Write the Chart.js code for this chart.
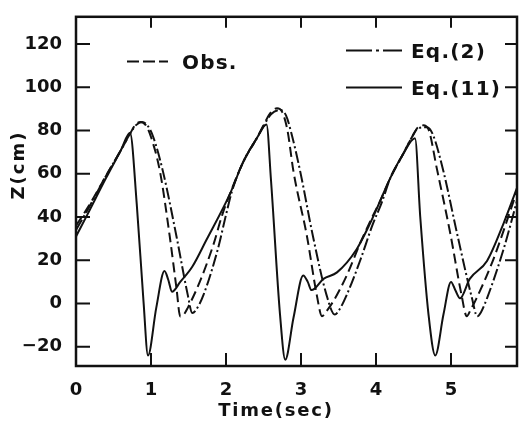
<!DOCTYPE html>
<html>
<head>
<meta charset="utf-8">
<script src="https://cdn.jsdelivr.net/npm/chart.js@4.4.1/dist/chart.umd.min.js"></script>
<style>
  html, body { margin: 0; padding: 0; background: #fff; }
</style>
</head>
<body>
<canvas id="chart" width="519" height="427"></canvas>
<script>
// tick labels
const xTicks = [0, 1, 2, 3, 4, 5];
const yTicks = [-20, 0, 20, 40, 60, 80, 100, 120];

// Obs. (dashed)
const obsT = [0, 0.15, 0.4, 0.6, 0.72, 0.8, 0.86, 0.93, 1.0, 1.12, 1.25, 1.34, 1.39, 1.44, 1.49, 1.65, 1.83, 1.95, 2.05, 2.23, 2.42, 2.5, 2.6, 2.68, 2.75, 2.82, 2.9, 3.08, 3.21, 3.28, 3.33, 3.43, 3.61, 3.79, 3.95, 4.05, 4.19, 4.36, 4.48, 4.56, 4.63, 4.7, 4.81, 4.99, 5.14, 5.21, 5.26, 5.34, 5.56, 5.88];
const obsZ = [36, 44, 59, 71, 78.5, 83, 84, 82.5, 77, 61, 31, 7, -6, -5, -2, 10, 27, 41, 50.5, 65.5, 77, 82.5, 88.5, 90.3, 88.5, 80, 61, 31, 4, -5.9, -4, 1, 13, 28, 40, 47, 58, 69, 77, 81.5, 82.4, 80.5, 62.6, 32.5, 4, -5.9, -3, 2.4, 20, 52];

// Eq.(2) (dash-dot)
const eq2T = [0, 0.15, 0.4, 0.6, 0.72, 0.8, 0.88, 0.95, 1.03, 1.16, 1.34, 1.49, 1.55, 1.6, 1.7, 1.89, 2.0, 2.08, 2.23, 2.42, 2.5, 2.6, 2.72, 2.8, 2.87, 2.99, 3.16, 3.34, 3.45, 3.5, 3.61, 3.79, 3.95, 4.08, 4.19, 4.36, 4.48, 4.56, 4.68, 4.76, 4.9, 5.08, 5.28, 5.35, 5.4, 5.48, 5.7, 5.88];
const eq2Z = [34, 43, 59, 71, 78.5, 82.5, 84, 82.5, 77, 61, 31, 4, -4.4, -3, 4, 25, 41, 52, 65.5, 77, 82, 87.5, 89.5, 87, 79, 61, 31, 4, -5.1, -3.5, 4, 20, 36, 47, 58, 69, 77, 81, 81.5, 78, 61, 32.5, 2.4, -5.9, -4, 2.4, 25, 47.5];

// Eq.(11) (solid)
const eq11T = [0, 0.15, 0.4, 0.6, 0.72, 0.81, 0.9, 0.96, 1.07, 1.18, 1.23, 1.28, 1.39, 1.55, 1.74, 2.05, 2.23, 2.42, 2.54, 2.6, 2.72, 2.79, 2.9, 3.03, 3.09, 3.14, 3.3, 3.48, 3.74, 3.92, 4.05, 4.19, 4.36, 4.52, 4.59, 4.7, 4.79, 4.9, 5.0, 5.06, 5.12, 5.25, 5.48, 5.7, 5.88];
const eq11Z = [31, 41, 58, 71, 79, 46, 1, -24, -2, 15, 11, 5.4, 10, 17, 29.5, 50.5, 65.5, 77, 82.8, 57, -5, -26, -6.6, 13, 10, 6.2, 11.4, 14.4, 25, 37, 47, 58, 69, 76.4, 40, -5, -24, -5, 10, 6, 2.4, 11.4, 19.7, 37, 53.5];

const toPoints = (ts, zs) => ts.map((t, i) => ({ x: t, y: zs[i] }));

const ink = '#111';
const tickFont = { family: 'DejaVu Sans', weight: 'bold', size: 18 };

// frame, inward tick marks, legend and axis titles
const decorations = {
    id: 'decorations',
    afterDraw(chart) {
        const ctx = chart.ctx;
        const a = chart.chartArea;
        const xs = chart.scales.x;
        const ys = chart.scales.y;
        ctx.save();
        ctx.strokeStyle = ink;
        ctx.lineWidth = 2.5;
        ctx.strokeRect(a.left, a.top, a.right - a.left, a.bottom - a.top);

        ctx.lineWidth = 2;
        ctx.beginPath();
        xTicks.forEach(v => {
            if (v === 0) return;
            const px = xs.getPixelForValue(v);
            ctx.moveTo(px, a.bottom); ctx.lineTo(px, a.bottom - 13);
            ctx.moveTo(px, a.top); ctx.lineTo(px, a.top + 11);
        });
        yTicks.forEach(v => {
            const py = ys.getPixelForValue(v);
            ctx.moveTo(a.left, py); ctx.lineTo(a.left + 14, py);
            ctx.moveTo(a.right, py); ctx.lineTo(a.right - 12, py);
        });
        ctx.stroke();

        // legend
        ctx.fillStyle = ink;
        ctx.font = 'bold 20px "DejaVu Sans"';
        ctx.letterSpacing = '1.2px';
        ctx.textBaseline = 'alphabetic';
        ctx.textAlign = 'left';
        ctx.lineWidth = 2;
        const sample = (x1, x2, y, dash) => {
            ctx.setLineDash(dash);
            ctx.beginPath();
            ctx.moveTo(x1, y); ctx.lineTo(x2, y);
            ctx.stroke();
        };
        sample(127, 168, 61.5, [12, 4]);
        ctx.fillText('Obs.', 182, 68.5);
        sample(346, 402, 50.5, [26, 4, 3, 4]);
        ctx.fillText('Eq.(2)', 411, 57.5);
        sample(346, 402, 87.5, []);
        ctx.fillText('Eq.(11)', 411, 94.5);
        ctx.setLineDash([]);

        // axis titles
        ctx.font = 'bold 18px "DejaVu Sans"';
        ctx.letterSpacing = '1.8px';
        ctx.textAlign = 'center';
        ctx.fillText('Time(sec)', 276, 415.5);
        ctx.translate(23.5, 165);
        ctx.rotate(-Math.PI / 2);
        ctx.letterSpacing = '2px';
        ctx.fillText('Z(cm)', 0, 0);
        ctx.restore();
    }
};

new Chart(document.getElementById('chart'), {
    type: 'line',
    data: {
        datasets: [
            {
                label: 'Obs.',
                data: toPoints(obsT, obsZ),
                borderColor: ink,
                borderWidth: 2,
                borderDash: [10, 5],
                pointRadius: 0,
                fill: false,
                cubicInterpolationMode: 'monotone'
            },
            {
                label: 'Eq.(2)',
                data: toPoints(eq2T, eq2Z),
                borderColor: ink,
                borderWidth: 2,
                borderDash: [12, 3, 2, 3],
                pointRadius: 0,
                fill: false,
                cubicInterpolationMode: 'monotone'
            },
            {
                label: 'Eq.(11)',
                data: toPoints(eq11T, eq11Z),
                borderColor: ink,
                borderWidth: 2,
                pointRadius: 0,
                fill: false,
                cubicInterpolationMode: 'monotone'
            }
        ]
    },
    options: {
        responsive: false,
        animation: false,
        devicePixelRatio: 1,
        layout: { padding: { top: 8, right: 2, left: 0, bottom: 0 } },
        plugins: {
            legend: { display: false },
            tooltip: { enabled: false }
        },
        scales: {
            x: {
                type: 'linear',
                min: 0,
                max: 5.88,
                afterBuildTicks: s => { s.ticks = xTicks.map(v => ({ value: v })); },
                afterFit: s => { s.height = 61; },
                grid: { display: false },
                border: { display: false },
                ticks: { color: ink, font: tickFont, padding: 6, maxRotation: 0 }
            },
            y: {
                type: 'linear',
                min: -28.9,
                max: 132.6,
                afterBuildTicks: s => { s.ticks = yTicks.map(v => ({ value: v })); },
                afterFit: s => { s.width = 76; },
                grid: { display: false },
                border: { display: false },
                ticks: {
                    color: ink,
                    font: tickFont,
                    padding: 6,
                    callback: v => v < 0 ? '\u2212' + Math.abs(v) : String(v)
                }
            }
        }
    },
    plugins: [decorations]
});
</script>
</body>
</html>
